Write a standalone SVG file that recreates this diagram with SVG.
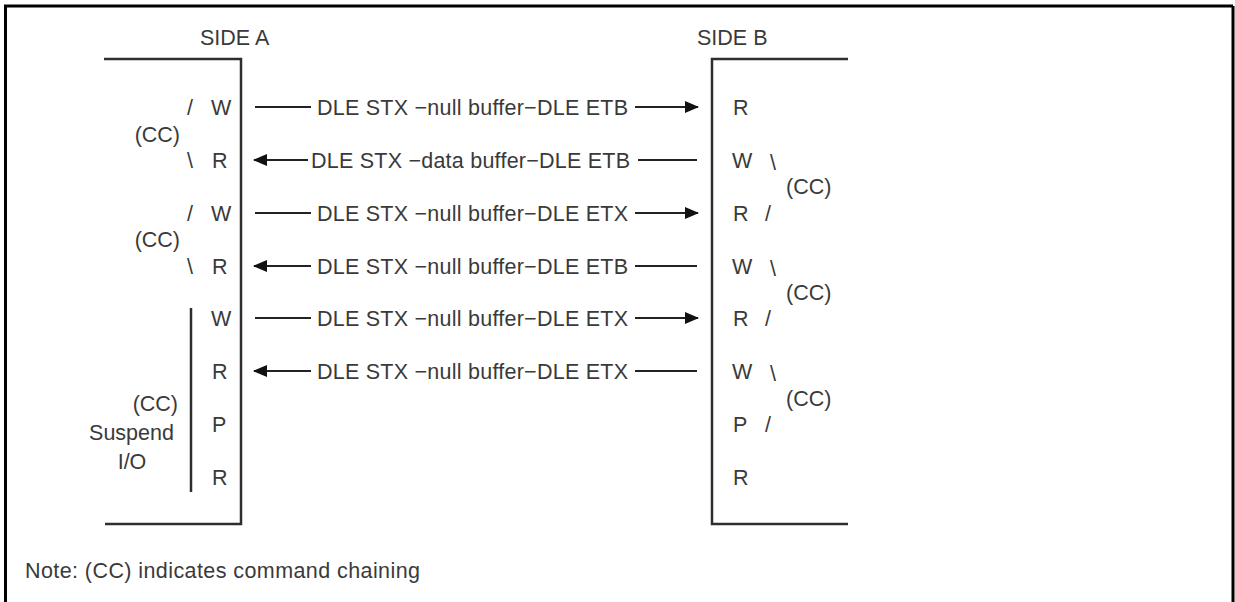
<svg xmlns="http://www.w3.org/2000/svg" width="1235" height="602" viewBox="0 0 1235 602">
<style>
text{font-family:"Liberation Sans",Arial,Helvetica,sans-serif;font-size:21.5px;fill:#3a3a3a}
.br{fill:none;stroke:#2e2e2e;stroke-width:2.5}
.cn{fill:none;stroke:#222;stroke-width:2}
.frame{fill:none;stroke:#000;stroke-width:3}
</style>
<defs>
<marker id="arr" viewBox="0 0 14 12" refX="13" refY="6" markerWidth="15" markerHeight="12" markerUnits="userSpaceOnUse" orient="auto">
<path d="M0,0 L14,6 L0,12 Z" fill="#111"/>
</marker>
</defs>
<rect width="1235" height="602" fill="#fff"/>
<path class="frame" d="M5.5,602 V6 H1233"/>
<line class="frame" x1="1233" y1="6" x2="1233" y2="602"/>

<g id="sideA">
<text x="200" y="45">SIDE A</text>
<path class="br" d="M104,59 H241 V524 H105"/>
<line class="br" x1="191" y1="308" x2="191" y2="492"/>
<text x="187" y="115">/</text><text x="211" y="115">W</text>
<text x="180" y="142" text-anchor="end">(CC)</text>
<text x="187" y="168">\</text><text x="212" y="168">R</text>
<text x="187" y="221">/</text><text x="211" y="221">W</text>
<text x="180" y="247" text-anchor="end">(CC)</text>
<text x="187" y="274">\</text><text x="212" y="274">R</text>
<text x="211" y="326">W</text>
<text x="212" y="379">R</text>
<text x="178" y="411" text-anchor="end">(CC)</text>
<text x="131.5" y="440" text-anchor="middle">Suspend</text>
<text x="132" y="469" text-anchor="middle">I/O</text>
<text x="212" y="432">P</text>
<text x="212" y="485">R</text>
</g>

<g id="sideB">
<text x="697" y="45">SIDE B</text>
<path class="br" d="M848,59 H712 V524 H848"/>
<text x="733" y="115">R</text>
<text x="732" y="168">W</text><text x="770" y="170">\</text>
<text x="786" y="194">(CC)</text>
<text x="733" y="221">R</text><text x="765" y="221">/</text>
<text x="732" y="274">W</text><text x="770" y="276">\</text>
<text x="786" y="300">(CC)</text>
<text x="733" y="326">R</text><text x="765" y="326">/</text>
<text x="732" y="379">W</text><text x="770" y="381">\</text>
<text x="786" y="406">(CC)</text>
<text x="733" y="432">P</text><text x="765" y="432">/</text>
<text x="733" y="485">R</text>
</g>

<g id="connectors">
<line class="cn" x1="255" y1="107" x2="311" y2="107"/>
<line class="cn" x1="635" y1="107" x2="698" y2="107" marker-end="url(#arr)"/>
<text x="317" y="115" textLength="311" lengthAdjust="spacing">DLE STX −null buffer−DLE ETB</text>

<line class="cn" x1="308" y1="160" x2="254" y2="160" marker-end="url(#arr)"/>
<line class="cn" x1="638" y1="160" x2="697" y2="160"/>
<text x="311" y="168" textLength="319" lengthAdjust="spacing">DLE STX −data buffer−DLE ETB</text>

<line class="cn" x1="255" y1="213" x2="311" y2="213"/>
<line class="cn" x1="635" y1="213" x2="698" y2="213" marker-end="url(#arr)"/>
<text x="317" y="221" textLength="311" lengthAdjust="spacing">DLE STX −null buffer−DLE ETX</text>

<line class="cn" x1="311" y1="266" x2="254" y2="266" marker-end="url(#arr)"/>
<line class="cn" x1="635" y1="266" x2="697" y2="266"/>
<text x="317" y="274" textLength="311" lengthAdjust="spacing">DLE STX −null buffer−DLE ETB</text>

<line class="cn" x1="255" y1="318" x2="311" y2="318"/>
<line class="cn" x1="635" y1="318" x2="698" y2="318" marker-end="url(#arr)"/>
<text x="317" y="326" textLength="311" lengthAdjust="spacing">DLE STX −null buffer−DLE ETX</text>

<line class="cn" x1="311" y1="371" x2="254" y2="371" marker-end="url(#arr)"/>
<line class="cn" x1="635" y1="371" x2="697" y2="371"/>
<text x="317" y="379" textLength="311" lengthAdjust="spacing">DLE STX −null buffer−DLE ETX</text>
</g>

<g id="note">
<text x="25" y="578" textLength="395" lengthAdjust="spacing">Note: (CC) indicates command chaining</text>
</g>
</svg>
